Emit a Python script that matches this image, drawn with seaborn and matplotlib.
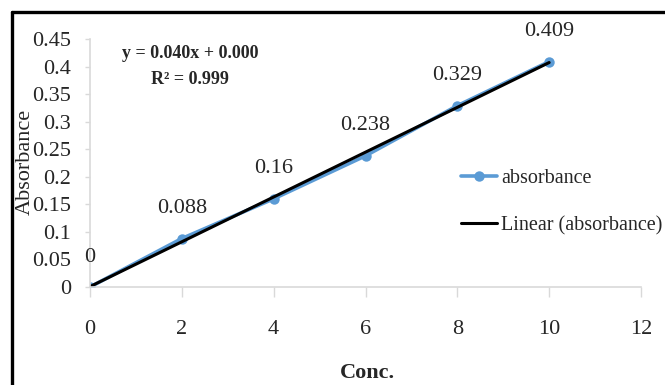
import numpy as np
import pandas as pd
import seaborn as sns
import matplotlib.pyplot as plt
from matplotlib.lines import Line2D

conc = [0, 2, 4, 6, 8, 10]
absorbance = [0, 0.088, 0.16, 0.238, 0.329, 0.409]
point_labels = ["0", "0.088", "0.16", "0.238", "0.329", "0.409"]
x_ticks = [0, 2, 4, 6, 8, 10, 12]
y_ticks = [0, 0.05, 0.1, 0.15, 0.2, 0.25, 0.3, 0.35, 0.4, 0.45]
y_tick_labels = ["0", "0.05", "0.1", "0.15", "0.2", "0.25", "0.3", "0.35", "0.4", "0.45"]
equation = "y = 0.040x + 0.000"
r_squared = "R² = 0.999"

df = pd.DataFrame({"Conc.": conc, "absorbance": absorbance})

sns.set_style("white")
plt.rcParams["font.family"] = ["Liberation Serif", "DejaVu Serif"]

blue = "#5B9BD5"
grey = "#D9D9D9"

fig = plt.figure(figsize=(6.65, 3.85), dpi=100)
ax = fig.add_axes([90 / 665, 1 - 287 / 385, (641 - 90) / 665, (287 - 39) / 385])

sns.lineplot(data=df, x="Conc.", y="absorbance", ax=ax, color=blue,
             linewidth=2.6, marker="o", markersize=7.5, markeredgewidth=0,
             label="absorbance")

# linear trendline from the data
slope, intercept = np.polyfit(conc, absorbance, 1)
fit_x = np.array([min(conc), max(conc)])
ax.plot(fit_x, slope * fit_x + intercept, color="black", linewidth=2.2,
        label="Linear (absorbance)")

for x, y, txt in zip(conc, absorbance, point_labels):
    ax.annotate(txt, (x, y), xytext=(0, 21.5), textcoords="offset points",
                ha="center", va="center", fontsize=16)

ax.set_xlim(0, 12)
ax.set_ylim(0, 0.45)
ax.set_xticks(x_ticks)
ax.set_xticklabels([str(t) for t in x_ticks])
ax.set_yticks(y_ticks)
ax.set_yticklabels(y_tick_labels)

for side in ["top", "right"]:
    ax.spines[side].set_visible(False)
for side in ["left", "bottom"]:
    ax.spines[side].set_color(grey)
    ax.spines[side].set_linewidth(1.2)

ax.tick_params(axis="y", direction="out", length=3.5, width=1, color=grey,
               labelsize=16, pad=10)
ax.tick_params(axis="x", direction="out", length=7, width=1, color=grey,
               labelsize=16, pad=17)
ax.tick_params(left=True, bottom=True)

ax.set_xlabel("")
ax.set_ylabel("")
fig.text(367 / 665, 1 - 373 / 385, "Conc.", ha="center", va="center",
         fontsize=16, fontweight="bold")
fig.text(25 / 665, 1 - 162 / 385, "Absorbance", ha="center", va="center",
         rotation=90, fontsize=16)

fig.text(190 / 665, 1 - 53 / 385, equation, ha="center", va="center",
         fontsize=13, fontweight="bold")
fig.text(190 / 665, 1 - 79 / 385, r_squared, ha="center", va="center",
         fontsize=13, fontweight="bold")

ax.legend(loc="upper left", bbox_to_anchor=(461 / 665, 1 - 169 / 385),
          bbox_transform=fig.transFigure, frameon=False, fontsize=14.5,
          handlelength=1.8, handletextpad=0.2, labelspacing=1.4,
          borderaxespad=0, borderpad=0)

# outer chart border (cut off at right and bottom)
fig.add_artist(Line2D([12 / 665, 12 / 665], [0, 1 - 12 / 385],
                      transform=fig.transFigure, color="black", linewidth=2.4))
fig.add_artist(Line2D([12 / 665, 1], [1 - 12 / 385, 1 - 12 / 385],
                      transform=fig.transFigure, color="black", linewidth=2.4))

fig.savefig("out.png", dpi=100)
